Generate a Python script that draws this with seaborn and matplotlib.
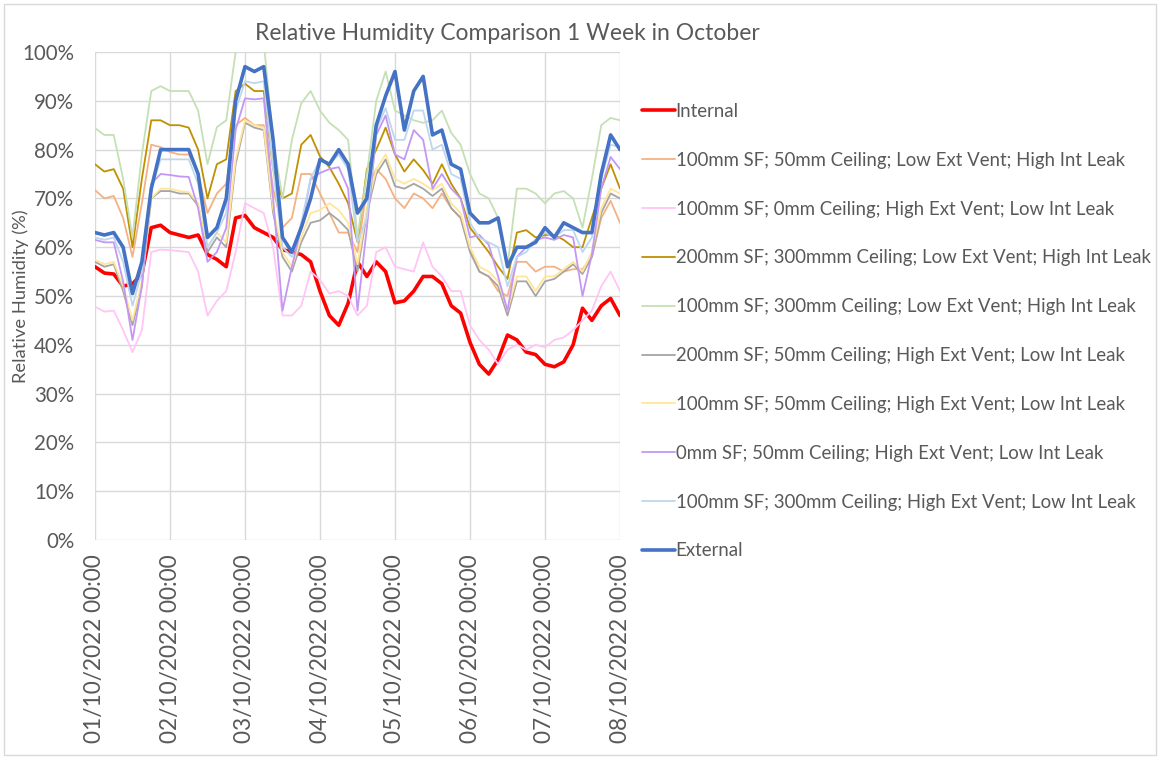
import numpy as np
import pandas as pd
import matplotlib
matplotlib.use("Agg")
import matplotlib.pyplot as plt
from matplotlib.patches import Rectangle
import seaborn as sns

# ---- data (3-hourly readings, 01/10/2022 00:00 -> 08/10/2022 00:00) ----
times = pd.date_range("2022-10-01 00:00", "2022-10-08 00:00", freq="3h")

internal = [56, 54.7, 54.5, 52, 52.5, 54.5, 64, 64.5, 63, 62.5, 62, 62.5, 58.5, 57.5, 56, 66,
            66.5, 64, 63, 62, 59.5, 59, 58.5, 57, 51, 46, 44, 48.5, 57, 54, 57, 55,
            48.6, 49, 51, 54, 54, 52.5, 48, 46.5, 40.5, 36, 34, 37, 42, 41, 38.5, 38,
            36, 35.5, 36.5, 40, 47.5, 45, 48, 49.5, 46]
sf100_c50_lowvent_highleak = [71.7, 70, 70.5, 66, 58, 69, 81, 80.5, 79.5, 79, 79, 75, 67, 71, 73, 85,
                              86.5, 85, 85, 72, 64, 66, 75, 75, 71, 67, 63, 63, 59, 72, 76, 74,
                              70, 68, 71, 70, 68, 71, 68, 66, 59.5, 55, 54, 51, 50, 57, 57, 55,
                              56, 56, 55, 55.5, 55.5, 58, 66, 69.5, 65]
sf100_c0_highvent_lowleak = [47.8, 46.8, 47, 43, 38.5, 43, 59, 59.5, 59.4, 59.2, 59, 55, 46, 49, 51, 59,
                             69, 68, 67, 60, 46, 46, 48, 55, 53.3, 50.5, 51, 50, 46, 48, 59, 60,
                             56, 55.5, 55, 61, 56, 54, 51, 51, 44, 41, 39, 36, 39, 40, 39, 40,
                             39.5, 41, 41.5, 43, 45, 47, 52, 55, 51]
sf200_c300_lowvent_highleak = [77, 75.5, 76, 72, 60, 74, 86, 86, 85, 85, 84.5, 80, 70, 77, 78, 92,
                               93.5, 92, 92, 76, 70, 71, 81, 83, 78.6, 76.4, 73, 69, 61, 76, 80, 84.5,
                               79, 75.5, 78, 75.8, 73, 77, 73, 70, 64, 61.5, 59, 56, 53.5, 63, 63.5, 62,
                               62.5, 62.5, 61.5, 60, 60, 66, 72, 77, 72]
sf100_c300_lowvent_highleak = [84.4, 83, 83, 74, 62, 79, 92, 93, 92, 92, 92, 88, 77, 84.6, 86, 100,
                               103, 103, 102, 82, 70, 82, 89.5, 92, 88, 85.5, 84, 82, 62, 75, 90, 96,
                               88, 87, 86, 85.5, 86, 88, 83.4, 81, 75, 71, 70, 66, 56, 72, 72, 71,
                               69, 71, 71.5, 70, 64, 74, 85, 86.5, 86]
sf200_c50_highvent_lowleak = [57, 56, 56.5, 51, 44, 52, 70, 71.5, 71.5, 71, 71, 68.5, 59, 62, 60, 77,
                              85.5, 84.5, 84, 67, 58, 55, 61, 65, 65.5, 67, 65.5, 63.5, 55, 67, 75, 78,
                              72.5, 72, 73, 72, 70.5, 72, 68, 66, 59, 55, 54, 52, 46, 53, 53, 50,
                              53, 53.5, 55, 56.5, 54.5, 58, 67, 71, 70]
sf100_c50_highvent_lowleak = [57.4, 56.5, 57, 52, 45, 53, 70, 72, 72, 71.5, 71.3, 69, 60, 63, 61, 78,
                              86, 85, 84.5, 68, 59, 56, 62, 67, 67.6, 69, 67.6, 65, 56.5, 68, 76, 79,
                              74, 73, 74, 73, 71.7, 73, 69, 67, 60, 56, 55, 53, 47, 54, 54, 51,
                              54, 54, 55.5, 57, 55, 59, 68, 72, 71]
sf0_c50_highvent_lowleak = [61.5, 61, 61, 53, 41, 52, 73, 75, 74.8, 74.5, 74.4, 68, 57, 59, 64, 84,
                            90.5, 90.3, 90.5, 70, 47, 56, 64, 74, 75.2, 76, 76.4, 72, 47, 64, 83, 87,
                            79, 78, 84, 82, 72, 75, 72, 70, 62, 62.5, 60.5, 54, 47, 58, 60, 61.5,
                            62, 61.5, 62.5, 62, 50, 58.5, 72, 78.5, 76]
sf100_c300_highvent_lowleak = [62, 61.5, 62, 57, 48, 55, 72, 78, 78, 78, 78, 73, 60, 63, 67, 88,
                               94, 93.6, 94, 76, 60, 58, 65, 74, 78, 77, 79, 76, 61, 66, 84, 88.5,
                               82, 82, 88, 88, 80, 81, 75, 74, 65, 62, 61, 60, 52, 58, 59, 61.5,
                               63, 62, 63.5, 63.5, 59, 62, 74, 81, 80.5]
external = [63, 62.5, 63, 60, 50.5, 57, 72, 80, 80, 80, 80, 75, 62, 64, 70, 90,
            97, 96, 97, 82, 62, 59, 64, 70, 78, 77, 80, 77, 67, 70, 85, 91,
            96, 84, 92, 95, 83, 84, 77, 76, 67, 65, 65, 66, 56, 60, 60, 61,
            64, 62, 65, 64, 63, 63, 75, 83, 80]

series_names = [
    "Internal",
    "100mm SF; 50mm Ceiling; Low Ext Vent; High Int Leak",
    "100mm SF; 0mm Ceiling; High Ext Vent; Low Int Leak",
    "200mm SF; 300mmm Ceiling; Low Ext Vent; High Int Leak",
    "100mm SF; 300mm Ceiling; Low Ext Vent; High Int Leak",
    "200mm SF; 50mm Ceiling; High Ext Vent; Low Int Leak",
    "100mm SF; 50mm Ceiling; High Ext Vent; Low Int Leak",
    "0mm SF; 50mm Ceiling; High Ext Vent; Low Int Leak",
    "100mm SF; 300mm Ceiling; High Ext Vent; Low Int Leak",
    "External",
]
series_values = [internal, sf100_c50_lowvent_highleak, sf100_c0_highvent_lowleak,
                 sf200_c300_lowvent_highleak, sf100_c300_lowvent_highleak,
                 sf200_c50_highvent_lowleak, sf100_c50_highvent_lowleak,
                 sf0_c50_highvent_lowleak, sf100_c300_highvent_lowleak, external]
colors = ["#FF0000", "#F4B183", "#FFC6F5", "#BF9000", "#C5E0B4",
          "#A5A5A5", "#FFE699", "#C497F5", "#BDD7EE", "#4472C4"]
widths = [2.6, 1.3, 1.3, 1.3, 1.3, 1.3, 1.3, 1.3, 1.3, 2.6]

# ---- plotting ----
sns.set_theme(style="whitegrid")
plt.rcParams["font.family"] = ["Lato", "DejaVu Sans"]
txt = "#595959"

fig = plt.figure(figsize=(11.62, 7.57), dpi=100)
ax = fig.add_axes([95 / 1162, 1 - 540 / 757, 525 / 1162, 488 / 757])

for name, vals, c, w in zip(series_names, series_values, colors, widths):
    sns.lineplot(x=times, y=vals, ax=ax, color=c, linewidth=w, label=name)

ax.set_ylim(0, 100)
ax.set_xlim(times[0], times[-1])
ax.set_yticks(np.arange(0, 101, 10))
ax.set_yticklabels([f"{v}%" for v in range(0, 101, 10)], fontsize=14.8, color=txt)
days = pd.date_range("2022-10-01", "2022-10-08", freq="D")
ax.set_xticks(days)
ax.set_xticklabels([d.strftime("%d/%m/%Y %H:%M") for d in days], rotation=90,
                   fontsize=16.3, color=txt)
ax.tick_params(axis="y", length=0, pad=15)
ax.tick_params(axis="x", length=0, pad=10)
ax.grid(True, color="#D9D9D9", linewidth=1.0)
for s in ax.spines.values():
    s.set_visible(False)
ax.set_xlabel("")
ax.set_ylabel("Relative Humidity (%)", fontsize=13.2, color=txt)
ax.yaxis.set_label_coords(-(95 - 29) / 525, 0.5)

handles, labels = ax.get_legend_handles_labels()
ax.legend(handles, labels, loc="upper left", bbox_to_anchor=(642 / 1162, 1 - 103 / 757),
          bbox_transform=fig.transFigure, frameon=False, fontsize=13.4,
          labelspacing=1.71, handlelength=1.75, handletextpad=0.05, borderaxespad=0,
          borderpad=0, labelcolor=txt)

fig.text(507 / 1162, 1 - 33 / 757, "Relative Humidity Comparison 1 Week in October",
         ha="center", va="center", fontsize=16.5, color=txt)

fig.patches.append(Rectangle((4 / 1162, 2 / 757), 1152 / 1162, 751 / 757, fill=False,
                             edgecolor="#D9D9D9", linewidth=1, transform=fig.transFigure))

fig.savefig("out.png", dpi=100, facecolor="white")
